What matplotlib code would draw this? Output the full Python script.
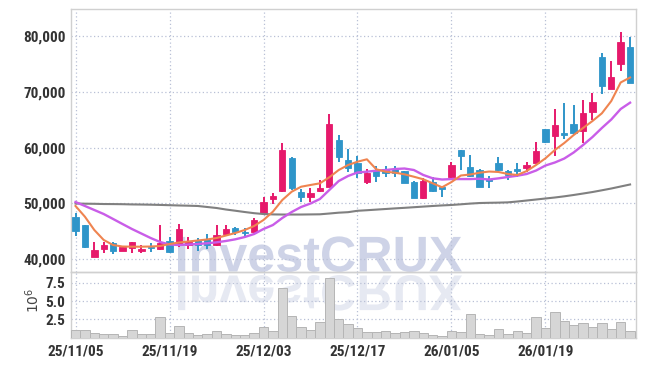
import matplotlib
matplotlib.use("Agg")
import matplotlib.pyplot as plt
import numpy as np
import os
from matplotlib.ticker import FuncFormatter, FixedLocator
from matplotlib.textpath import TextPath
from matplotlib.patches import PathPatch
from matplotlib.font_manager import FontProperties, findSystemFonts
from matplotlib.transforms import Affine2D

# ---------------- data ----------------
date_labels = ["25/11/05", "25/11/19", "25/12/03", "25/12/17", "26/01/05", "26/01/19"]
date_positions = [0, 10, 20, 30, 40, 50]

opens = [47520, 46140, 40470, 41900, 42870, 41540, 41970, 41490, 42200, 41790,
         43280, 42560, 42560, 43460, 43640, 42560, 44480, 45660, 44940, 44940,
         48240, 50800, 52290, 58090, 52000, 51210, 52290, 53000, 61370, 57780,
         57190, 53790, 55990, 56170, 56170, 55820, 53900, 51030, 53900, 53000,
         54790, 59570, 56590, 55990, 54330, 57300, 55820, 56120, 56410, 57300,
         63290, 62140, 62570, 64230, 63040, 66440, 76290, 70560, 74930, 77980]
highs = [48240, 46200, 43150, 43150, 43150, 42380, 43150, 42560, 42870, 46140,
         44050, 46270, 44050, 43800, 44480, 46090, 46140, 45840, 45550, 47340,
         51100, 51820, 60780, 58380, 52540, 52720, 54200, 66020, 62260, 59700,
         58500, 56120, 56710, 56760, 56760, 55900, 54000, 54620, 54790, 53000,
         57480, 59650, 58680, 56100, 54970, 58270, 55990, 57190, 57480, 61060,
         63300, 66870, 67950, 67640, 68510, 69850, 76900, 75580, 80670, 79770]
lows = [44170, 42100, 40470, 41080, 40950, 41400, 41080, 41080, 41360, 41700,
        41080, 42260, 41800, 41540, 41790, 42470, 44350, 44350, 44050, 44900,
        48240, 49850, 52000, 52410, 50210, 50320, 52110, 52880, 57480, 55690,
        54510, 53490, 53850, 54690, 54800, 53600, 50900, 50800, 52110, 51210,
        54510, 56060, 54800, 53000, 52720, 55690, 54200, 54690, 55690, 57190,
        60780, 58500, 61500, 62270, 60880, 64960, 69610, 70500, 73790, 71640]
closes = [45070, 42260, 41670, 42560, 41540, 42150, 43050, 41900, 41970, 42970,
          41360, 45370, 43050, 42620, 42560, 44350, 45430, 44840, 44660, 47040,
          50320, 51390, 59580, 52720, 51210, 51820, 52720, 64230, 58270, 56300,
          55400, 55400, 54920, 55400, 55510, 53720, 51030, 54020, 52290, 52590,
          56890, 58500, 54920, 53000, 54080, 55990, 55100, 55870, 56890, 59400,
          61060, 64060, 62270, 62680, 66150, 68240, 71100, 72600, 78870, 71640]

ma_short = [49550, 47630, 45250, 43460, 42560, 42290, 42260, 42260, 42290, 42380,
            42740, 43010, 43190, 43370, 43550, 43810, 44260, 44710, 45250, 45960,
            47040, 48530, 50620, 52110, 53000, 53310, 53610, 54690, 55990, 56890,
            57480, 57910, 56120, 55690, 55510, 55220, 54790, 54330, 53610, 52900,
            53840, 55010, 55190, 55510, 55720, 55640, 55280, 55100, 55810, 56890,
            58090, 59580, 60830, 62260, 63520, 64770, 66150, 68350, 71670, 72560]
ma_mid = [50260, 49550, 48830, 48110, 47220, 46320, 45430, 44620, 43810, 43100,
          42650, 42560, 42650, 42740, 42870, 43040, 43280, 43580, 43990, 44530,
          45430, 46140, 47400, 48470, 49370, 49990, 50800, 52410, 54020, 54920,
          55550, 55690, 55870, 55990, 56170, 56260, 55990, 55100, 54510, 54290,
          54370, 54370, 54370, 54430, 54290, 54500, 54740, 54970, 55280, 55900,
          56800, 57340, 58050, 59130, 60470, 61900, 63520, 65040, 66920, 68050]
ma_long = [49990, 49960, 49940, 49900, 49890, 49870, 49830, 49810, 49780, 49740,
           49690, 49640, 49600, 49550, 49370, 49190, 48920, 48700, 48470, 48260,
           48110, 48040, 48020, 48020, 48020, 48040, 48060, 48200, 48350, 48440,
           48690, 48790, 48900, 49010, 49120, 49220, 49330, 49440, 49550, 49650,
           49730, 49850, 49980, 50080, 50120, 50150, 50200, 50350, 50530, 50710,
           50890, 51070, 51280, 51520, 51780, 52050, 52360, 52680, 53040, 53400]

volume_m = [1.05, 1.05, 0.65, 0.5, 0.5, 0.25, 1.05, 0.5, 0.5, 2.85,
            0.65, 1.6, 0.65, 0.4, 0.5, 0.9, 0.5, 0.4, 0.4, 0.65,
            1.45, 0.9, 6.8, 2.95, 1.45, 1.05, 2.15, 8.2, 2.5, 1.9,
            1.32, 0.8, 0.8, 0.9, 0.65, 0.8, 0.9, 0.65, 0.4, 0.22,
            0.9, 0.8, 3.25, 0.5, 0.4, 1.2, 0.5, 0.9, 0.65, 2.8,
            1.3, 3.5, 2.3, 1.75, 2.0, 1.45, 2.0, 1.2, 2.15, 0.9]

# ---------------- fonts ----------------
def pick_condensed_bold():
    files = findSystemFonts()
    prefs = ["liberationsansnarrow-bold.", "robotocondensed-bold.", "dejavusanscondensed-bold.",
             "opensans-condensedbold.", "opensans_condensed-bold.", "notosans-condensedbold."]
    low = {os.path.basename(f).lower(): f for f in files}
    for p in prefs:
        for name, f in low.items():
            if name.startswith(p):
                return f
    for name, f in low.items():
        if ("narrow" in name or "condensed" in name) and "bold" in name and "italic" not in name \
                and "oblique" not in name and "extra" not in name and "semi" not in name:
            return f
    return None

cfile = pick_condensed_bold()
if cfile:
    TICKFP = FontProperties(fname=cfile, size=11)
else:
    TICKFP = FontProperties(family="DejaVu Sans", weight="bold", size=9)

# ---------------- style ----------------
W, H = 645, 366
fig = plt.figure(figsize=(W / 100, H / 100), dpi=100)
fig.patch.set_facecolor("white")

UP = "#e6196b"
DOWN = "#2f95c9"
GRID = "#b9c0d6"
SPINE = "#d0d0d0"
TICKC = "#333333"

def fx(px):
    return px / W

def fy(py):
    return 1 - py / H

ax_l, ax_r = 71, 636
ax = fig.add_axes([fx(ax_l), fy(271.7), fx(ax_r - ax_l), (271.7 - 9.3) / H])
axv = fig.add_axes([fx(ax_l), fy(337.7), fx(ax_r - ax_l), (337.7 - 271.7) / H], sharex=ax)

# watermark (behind)
fp = FontProperties(family=["Liberation Sans", "DejaVu Sans"], weight="bold")
tp = TextPath((0, 0), "InvestCRUX", size=100, prop=fp)
ext = tp.get_extents()
target_w = 462 - 178
s = target_w / ext.width
x0 = 178 - ext.x0 * s
base = H - 271.5
wm = PathPatch(tp, transform=Affine2D().scale(s, s).translate(x0, base),
               facecolor="#c6cce3", edgecolor="none", alpha=0.85, zorder=0)
fig.patches.append(wm)
wm2 = PathPatch(tp, transform=Affine2D().scale(s, -s).translate(x0, base - 4),
                facecolor="#e4e7f1", edgecolor="none", alpha=0.9, zorder=0)
fig.patches.append(wm2)
for a in (ax, axv):
    a.set_facecolor("none")
    a.set_zorder(2)

x = np.arange(len(opens))
o = np.array(opens, float); c = np.array(closes, float)
h = np.array(highs, float); l = np.array(lows, float)
colors = [UP if cc >= oo else DOWN for oo, cc in zip(o, c)]
bottoms = np.minimum(o, c)
heights = np.maximum(np.abs(c - o), 150)

ax.vlines(x, l, h, colors=colors, linewidth=1.4, zorder=3)
ax.bar(x, heights, bottom=bottoms, width=0.68, color=colors, edgecolor=colors,
       linewidth=0.6, zorder=4)

ax.plot(x, ma_long, color="#808080", linewidth=1.5, zorder=5)
ax.plot(x, ma_mid, color="#c95de8", linewidth=1.7, zorder=5)
ax.plot(x, ma_short, color="#ef8450", linewidth=1.5, zorder=6)

ax.set_xlim(-0.48, 59.63)
ax.set_ylim(37780, 84775)
ax.yaxis.set_major_locator(FixedLocator([40000, 50000, 60000, 70000, 80000]))
ax.yaxis.set_major_formatter(FuncFormatter(lambda v, p: f"{int(v):,}"))
ax.xaxis.set_major_locator(FixedLocator(date_positions))
ax.grid(True, color=GRID, linestyle=(0, (1, 2)), linewidth=0.9)
ax.set_axisbelow(True)
ax.tick_params(axis="x", length=0, labelbottom=False)
ax.tick_params(axis="y", length=0, pad=4, colors=TICKC)

vol = np.array(volume_m) * 1e6
axv.bar(x, vol, width=1.0, color="#d6d6d6", edgecolor="#b5b5b5", linewidth=0.7, zorder=3)
axv.set_ylim(0, 9.0e6)
axv.yaxis.set_major_locator(FixedLocator([2.5e6, 5.0e6, 7.5e6]))
axv.yaxis.set_major_formatter(FuncFormatter(lambda v, p: f"{v / 1e6:.1f}"))
axv.xaxis.set_major_locator(FixedLocator(date_positions))
axv.set_xticklabels(date_labels)
axv.grid(True, color=GRID, linestyle=(0, (1, 2)), linewidth=0.9)
axv.set_axisbelow(True)
axv.tick_params(axis="x", length=0, pad=5, colors=TICKC)
axv.tick_params(axis="y", length=0, pad=4, colors=TICKC)

fig.canvas.draw()
for t in ax.get_yticklabels() + axv.get_yticklabels() + axv.get_xticklabels():
    t.set_fontproperties(TICKFP)

for a in (ax, axv):
    for sp in a.spines.values():
        sp.set_color(SPINE)
        sp.set_linewidth(1.0)

fig.text(fx(33), fy(300), r"$10^{6}$", rotation=90, ha="center", va="center",
         fontsize=10, color="#444444")

fig.savefig("out.png", dpi=100, facecolor="white")
